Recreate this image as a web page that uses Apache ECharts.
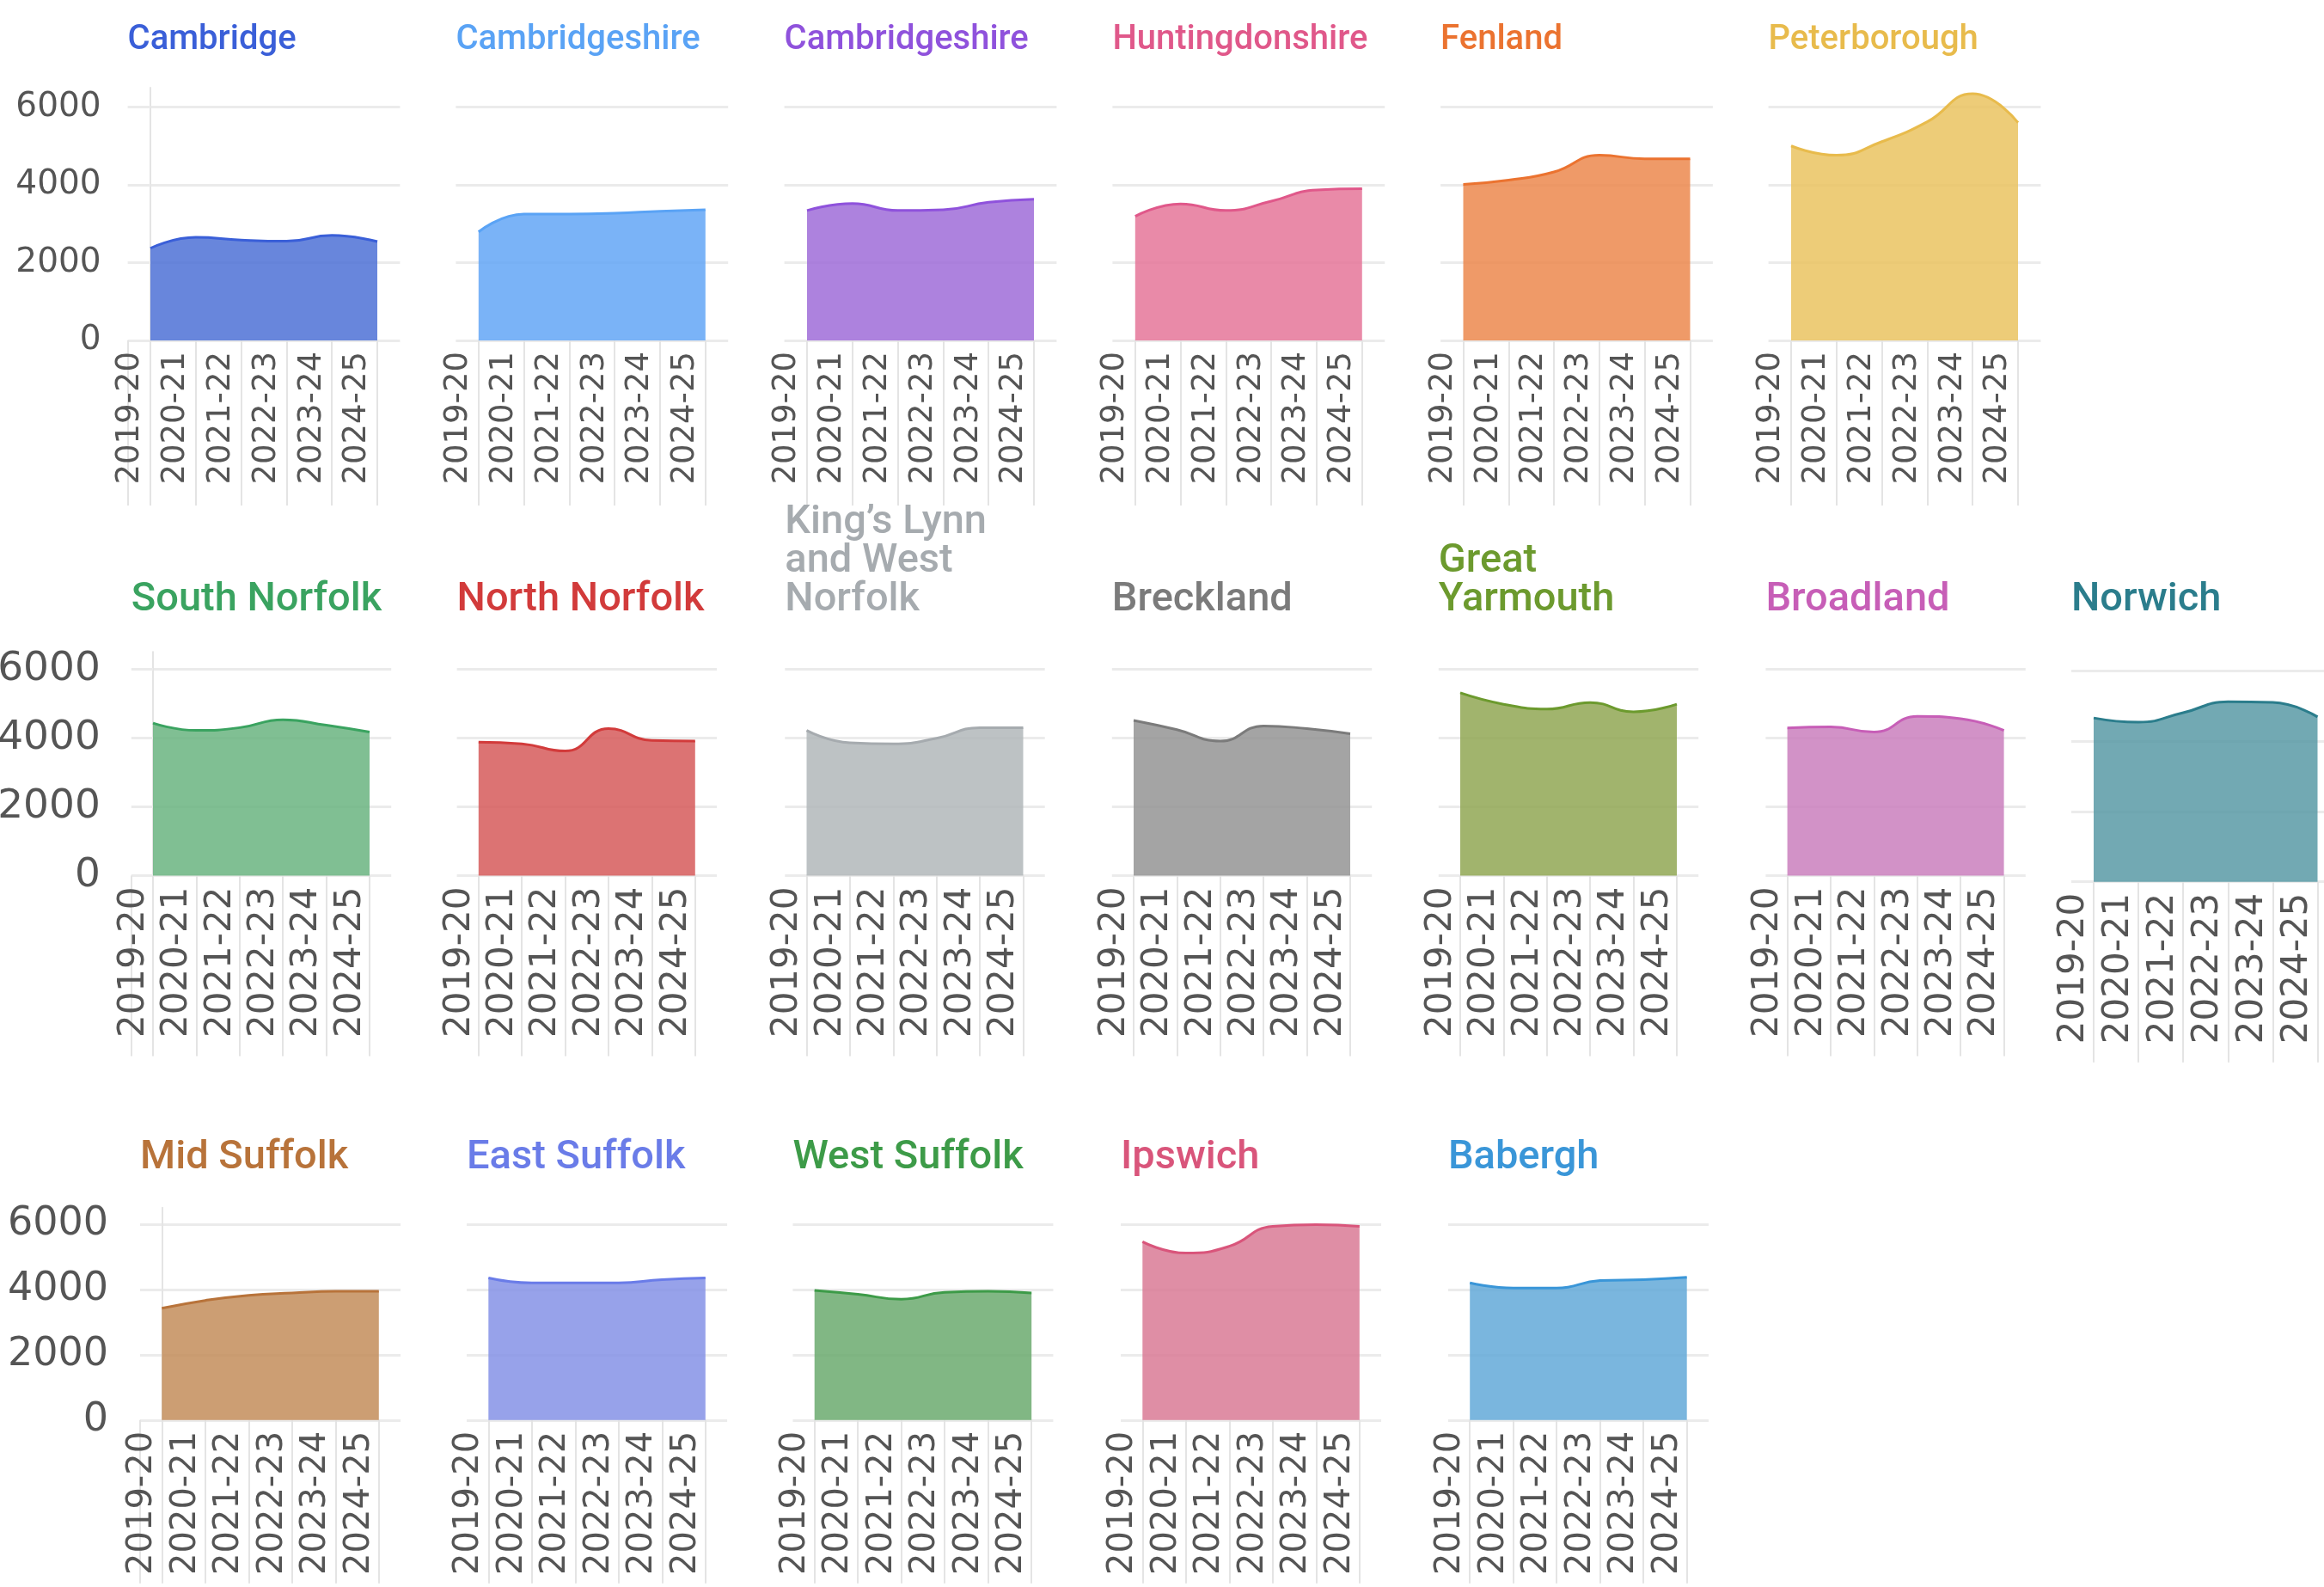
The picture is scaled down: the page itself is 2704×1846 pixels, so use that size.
<!DOCTYPE html>
<html>
<head>
<meta charset="utf-8">
<title>Small multiples</title>
<script src="https://cdn.jsdelivr.net/npm/echarts@6/dist/echarts.min.js"></script>
<style>
  html, body { margin: 0; padding: 0; background: #fff; }
  #chart { width: 2704px; height: 1846px; }
</style>
</head>
<body>
<div id="chart"></div>
<script>
var years = ['2019-20', '2020-21', '2021-22', '2022-23', '2023-24', '2024-25'];
var yTicks = [0, 2000, 4000, 6000];

// values, one per year
var cambridge       = [2370, 2650, 2580, 2550, 2700, 2540];
var cambridgeshireA = [2790, 3250, 3250, 3270, 3320, 3360];
var cambridgeshireB = [3340, 3520, 3340, 3360, 3550, 3630];
var huntingdonshire = [3190, 3510, 3340, 3580, 3870, 3900];
var fenland         = [4010, 4120, 4330, 4760, 4670, 4670];
var peterborough    = [5000, 4760, 5110, 5620, 6340, 5600];
var southNorfolk    = [4430, 4220, 4300, 4530, 4370, 4170];
var northNorfolk    = [3880, 3830, 3620, 4270, 3930, 3910];
var kingsLynn       = [4220, 3860, 3830, 3990, 4300, 4300];
var breckland       = [4510, 4240, 3910, 4350, 4270, 4120];
var greatYarmouth   = [5310, 4980, 4840, 5030, 4760, 4980];
var broadland       = [4290, 4320, 4170, 4630, 4560, 4220];
var norwich         = [4660, 4540, 4810, 5120, 5100, 4690];
var midSuffolk      = [3420, 3660, 3820, 3890, 3940, 3940];
var eastSuffolk     = [4350, 4200, 4200, 4200, 4300, 4350];
var westSuffolk     = [3970, 3850, 3700, 3910, 3940, 3890];
var ipswich         = [5460, 5110, 5320, 5930, 5980, 5930];
var babergh         = [4200, 4040, 4040, 4270, 4300, 4370];

var names = [
  ['Cambridge', 'Cambridgeshire', 'Cambridgeshire', 'Huntingdonshire', 'Fenland', 'Peterborough'],
  ['South Norfolk', 'North Norfolk', 'King\u2019s Lynn\nand West\nNorfolk', 'Breckland', 'Great\nYarmouth', 'Broadland', 'Norwich'],
  ['Mid Suffolk', 'East Suffolk', 'West Suffolk', 'Ipswich', 'Babergh']
];
var series_values = [
  [cambridge, cambridgeshireA, cambridgeshireB, huntingdonshire, fenland, peterborough],
  [southNorfolk, northNorfolk, kingsLynn, breckland, greatYarmouth, broadland, norwich],
  [midSuffolk, eastSuffolk, westSuffolk, ipswich, babergh]
];

// line / title colour and the area colour as it looks on white
var lineColors = [
  ['#3a5fd8', '#5aa3f5', '#8f52dc', '#e0588a', '#eb7330', '#e8bb4c'],
  ['#3aa360', '#d23b3b', '#a6abaf', '#7b7b7b', '#6c9a2e', '#c75eb7', '#2b7d8c'],
  ['#b8733a', '#6a7ce8', '#3d9b48', '#d9557b', '#3a96d8']
];
var fillColors = [
  ['#6886dc', '#7ab3f7', '#ad82de', '#e98aa8', '#ef9a68', '#edcc78'],
  ['#80bf93', '#dc7474', '#bdc2c4', '#a4a4a4', '#a1b46e', '#d292c7', '#72a9b3'],
  ['#cc9e74', '#97a2ea', '#81b785', '#df8ea5', '#7ab6de']
];

// layout of each row of panels (pixels)
var rows = [
  { base: 396,    unit: 90.5, step: 52.8, tick: 192, yTick: 17, font: 37, yFont: 39, title: 40, lh: 44, titleTop: 25,   yMargin: 31,
    starts: [175, 556.8, 939, 1320.8, 1702.5, 2084] },
  { base: 1018.6, unit: 80.1, step: 50.4, tick: 210, yTick: 23, font: 42, yFont: 47, title: 47, lh: 45, titleTop: 676,  yMargin: 36,
    starts: [178, 556.8, 938.5, 1319, 1699, 2079.6, 2436] },
  { base: 1651.8, unit: 76,   step: 50.5, tick: 190, yTick: 23, font: 40, yFont: 46, title: 47, lh: 45, titleTop: 1325, yMargin: 37,
    starts: [188.3, 568.3, 947.7, 1329.3, 1710.2] }
];
// the Norwich panel sits a little lower and wider than the rest of its row
var norwichLayout = { base: 1025.7, unit: 81.8, step: 52.1 };

var gridColor = '#ebebeb';
var tickColor = '#e4e4e4';
var labelColor = '#555555';

function seeThrough(hex, a) {
  var c = [1, 3, 5].map(function (i) { return parseInt(hex.substr(i, 2), 16); });
  var r = c.map(function (v) { return Math.max(0, Math.min(255, Math.round((v - (1 - a) * 255) / a))); });
  return 'rgba(' + r.join(',') + ',' + a + ')';
}

var option = { animation: false, backgroundColor: '#fff', title: [], grid: [], xAxis: [], yAxis: [], series: [] };

rows.forEach(function (row, r) {
  row.starts.forEach(function (start, c) {
    var k = option.grid.length;
    var first = c === 0;
    var lay = (r === 1 && c === 6) ? norwichLayout : row;
    var left = start - lay.step / 2;
    var height = lay.unit * 3.25;
    var text = names[r][c];
    var nLines = text.split('\n').length;

    option.grid.push({
      left: left, top: lay.base - height, width: lay.step * 6, height: height,
      outerBoundsMode: 'none'
    });

    option.title.push({
      text: text, left: left, top: row.titleTop - (nLines - 1) * row.lh, padding: 0,
      textStyle: { color: lineColors[r][c], fontSize: row.title, fontWeight: 500, fontFamily: 'Roboto', lineHeight: row.lh }
    });

    option.xAxis.push({
      gridIndex: k, type: 'value', min: -0.5, max: 5.5,
      axisLine: { show: false },
      splitLine: { show: false },
      axisTick: {
        show: true, length: row.tick,
        customValues: first ? [-0.5, 0, 1, 2, 3, 4, 5] : [0, 1, 2, 3, 4, 5],
        lineStyle: { color: tickColor, width: 2 }
      },
      axisLabel: {
        customValues: years.map(function (y, i) { return i - 0.44; }),
        rotate: 90, margin: 13, fontSize: row.font, fontFamily: 'DejaVu Sans', color: labelColor,
        formatter: function (v) { return years[Math.round(v + 0.44)]; }
      }
    });

    option.yAxis.push({
      gridIndex: k, type: 'value', min: 0, max: 6500,
      axisLine: { show: first, lineStyle: { color: tickColor, width: 2 } },
      axisTick: { show: first, length: row.yTick, customValues: yTicks, lineStyle: { color: gridColor, width: 3 } },
      axisLabel: {
        show: first, customValues: yTicks, margin: row.yMargin,
        fontSize: row.yFont, fontFamily: 'DejaVu Sans', color: labelColor,
        formatter: function (v) { return String(v); }
      },
      splitLine: { show: true, lineStyle: { color: gridColor, width: 3 } }
    });

    option.series.push({
      type: 'line', name: text, xAxisIndex: k, yAxisIndex: k,
      data: series_values[r][c].map(function (v, i) { return [i, v]; }),
      smooth: 0.5, showSymbol: false, symbol: 'none', silent: true,
      lineStyle: { color: lineColors[r][c], width: 3 },
      areaStyle: { color: seeThrough(fillColors[r][c], 0.85), opacity: 1 }
    });
  });
});

var chart = echarts.init(document.getElementById('chart'));
chart.setOption(option);
</script>
</body>
</html>
